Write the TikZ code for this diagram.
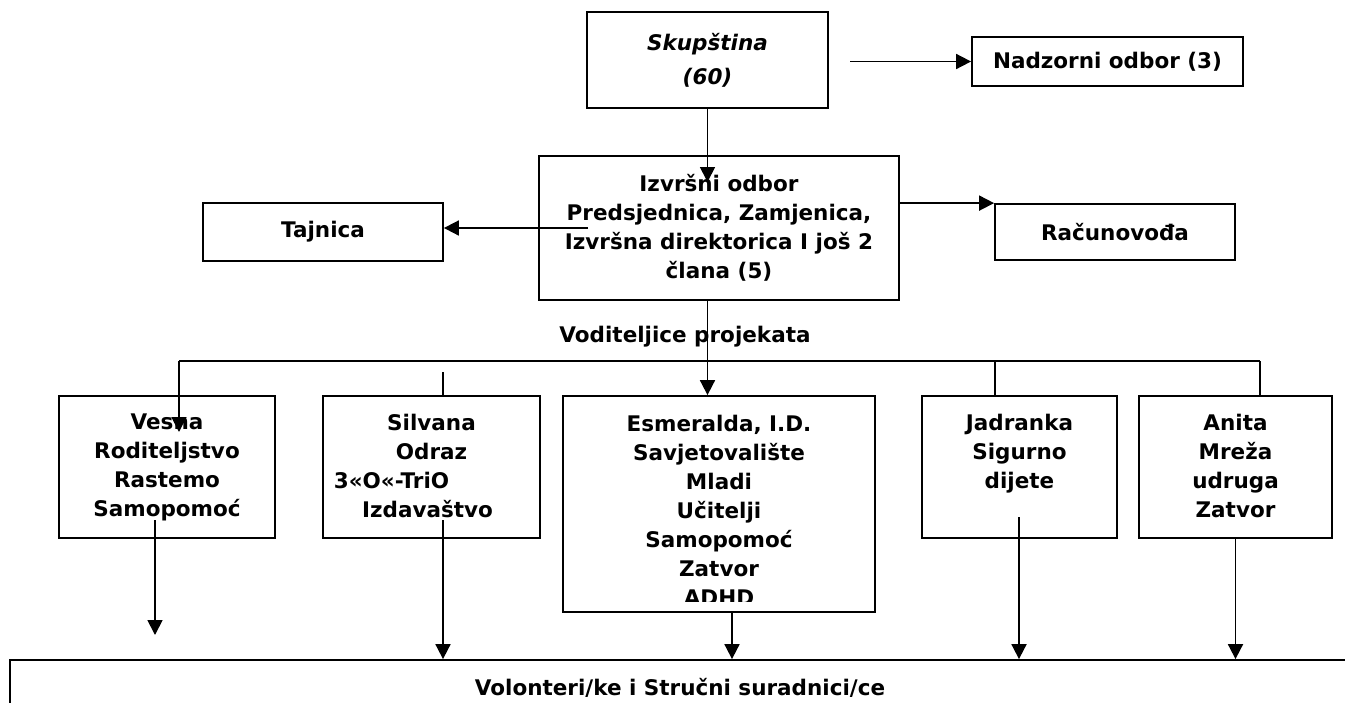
\documentclass[tikz,border=0pt]{standalone}
\usepackage{fontspec}
\setmainfont{DejaVu Sans}
\usepackage{tikz}
\usetikzlibrary{arrows.meta, positioning, calc}

\begin{document}
\begin{tikzpicture}[
    x=1pt, y=-1pt,
    font=\fontsize{21.5pt}{29pt}\selectfont\bfseries,
    line width=1.8pt,
    box/.style={
      rectangle,
      draw,
      align=center,
      inner sep=0pt
    },
    btext/.style={
      align=center,
      inner sep=0pt
    },
    arr/.style={
      -{Triangle[length=15pt, width=15pt]}
    }
]
\clip (0,0) rectangle (1345,702);

% 1. NODES
\node[box, minimum width=241pt, minimum height=96pt] (skup) at (707.5,60)
    {\textit{Skupština}\\[5pt]\textit{(60)}};
\node[box, minimum width=271pt, minimum height=49pt] (nadz) at (1107.5,61.5) {Nadzorni odbor (3)};
\node[box, minimum width=360pt, minimum height=144pt] (izv) at (719,228)
    {Izvršni odbor\\Predsjednica, Zamjenica,\\Izvršna direktorica I još 2\\člana (5)};
\node[box, minimum width=240pt, minimum height=58pt] (taj) at (323,232) {Tajnica};
\node[box, minimum width=240pt, minimum height=56pt] (rac) at (1115,232) {Računovođa};

\node[btext] (vod) at (685,337) {Voditeljice projekata};

% project boxes, text hangs from the top
\node[box, minimum width=216pt, minimum height=142pt] (vesna) at (167,467) {};
\node[box, minimum width=217pt, minimum height=142pt] (silv) at (431.5,467) {};
\node[box, minimum width=312pt, minimum height=216pt] (esm) at (719,504) {};
\node[box, minimum width=195pt, minimum height=142pt] (jadr) at (1019.5,467) {};
\node[box, minimum width=193pt, minimum height=142pt] (anita) at (1235.5,467) {};

\node[btext, below=18pt of vesna.north] (vesnaT) {Vesna\\Roditeljstvo\\Rastemo\\Samopomoć};
\node[btext, below=18pt of silv.north] (silvT)
    {Silvana\\Odraz\\3«O«-TriO\rule{80pt}{0pt}\\Izdavaštvo\rule{8pt}{0pt}};
\begin{scope}
  \clip (esm.north west) rectangle ($(esm.south east)+(0,-11)$);
  \node[btext, below=19pt of esm.north] (esmT)
      {Esmeralda, I.D.\\Savjetovalište\\Mladi\\Učitelji\\Samopomoć\\Zatvor\\ADHD};
\end{scope}
\node[btext, below=18pt of jadr.north] (jadrT) {Jadranka\\Sigurno\\dijete};
\node[btext, below=18pt of anita.north] (anitaT) {Anita\\Mreža\\udruga\\Zatvor};

\node[box, minimum width=1340pt, minimum height=56pt] (vol) at (680,688)
    {Volonteri/ke i Stručni suradnici/ce};

% 2. ARROWS
\coordinate (izvtip) at (707.5,182);
\coordinate (nadzstart) at (850,61.5);
\coordinate (tajstart) at (588,228);
\draw[arr] (skup.south) -- (izvtip);
\draw[arr] (nadzstart) -- (nadz.west);
\draw[arr] (tajstart) -- (tajstart -| taj.east);
\draw[arr] (izv.east |- rac.north) -- (rac.north west);

% bar over the project boxes
\coordinate (barL) at (179,361);
\coordinate (barJ) at (995,361);
\coordinate (barR) at (1260,361);
\coordinate (vesnatip) at (179,432);
\coordinate (stub) at (443,372);
\draw (barL) -- (barR);
\draw[arr] (barL) -- (vesnatip);
\draw (stub) -- (stub |- silv.north);
\draw (barJ) -- (barJ |- jadr.north);
\draw (barR) -- (barR |- anita.north);
\draw[arr] (skup.south |- izv.south) -- (skup.south |- esm.north);

% down to the volunteers
\coordinate (vesnaS) at (155,520);
\coordinate (vesnaE) at (155,635);
\coordinate (silvS) at (443,520);
\coordinate (esmS) at (732,612);
\coordinate (jadrS) at (1019,517);
\draw[arr] (vesnaS) -- (vesnaE);
\draw[arr] (silvS) -- (silvS |- vol.north);
\draw[arr] (esmS) -- (esmS |- vol.north);
\draw[arr] (jadrS) -- (jadrS |- vol.north);
\draw[arr] (anita.south) -- (anita.south |- vol.north);

\end{tikzpicture}
\end{document}
